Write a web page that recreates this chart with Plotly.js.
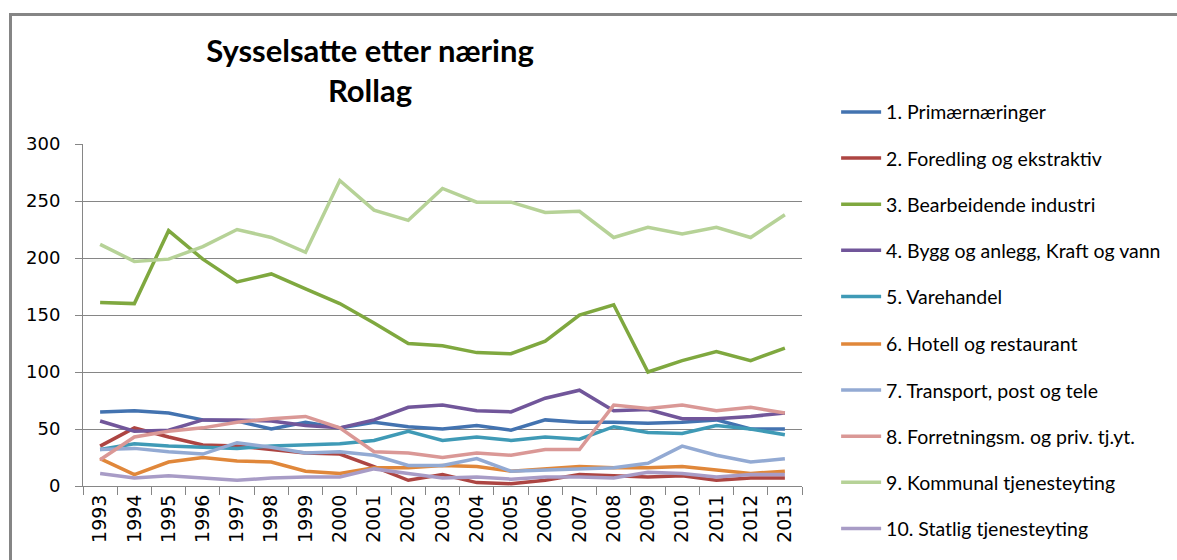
<!DOCTYPE html>
<html>
<head>
<meta charset="utf-8">
<script src="https://cdn.plot.ly/plotly-3.0.1.min.js"></script>
<style>
html,body{margin:0;padding:0;background:#fff;}
#chart{width:1177px;height:560px;}
#frame{position:absolute;left:9px;top:13px;width:1200px;height:600px;border-top:3px solid #858585;border-left:3px solid #858585;pointer-events:none;}
</style>
</head>
<body>
<div id="chart"></div>
<div id="frame"></div>
<script>
const years = ["1993","1994","1995","1996","1997","1998","1999","2000","2001","2002","2003","2004","2005","2006","2007","2008","2009","2010","2011","2012","2013"];
const seriesNames = [
  "1. Primærnæringer",
  "2. Foredling og ekstraktiv",
  "3. Bearbeidende industri",
  "4. Bygg og anlegg, Kraft og vann",
  "5. Varehandel",
  "6. Hotell og restaurant",
  "7. Transport, post og tele",
  "8. Forretningsm. og priv. tj.yt.",
  "9. Kommunal tjenesteyting",
  "10. Statlig tjenesteyting"
];
const primaer    = [65,66,64,58,57,50,56,51,56,52,50,53,49,58,56,56,55,56,58,50,50];
const foredling  = [35,51,43,36,35,32,29,28,17,5,10,3,2,5,10,9,8,9,5,7,7];
const bearbeid   = [161,160,224,199,179,186,173,160,143,125,123,117,116,127,150,159,100,110,118,110,121];
const bygg       = [57,48,49,58,58,57,53,51,58,69,71,66,65,77,84,66,67,59,59,61,64];
const varehandel = [32,37,35,34,33,35,36,37,40,48,40,43,40,43,41,52,47,46,53,50,45];
const hotell     = [24,10,21,25,22,21,13,11,16,16,18,17,13,15,17,16,16,17,14,11,13];
const transport  = [32,33,30,28,38,34,29,30,27,18,18,24,13,14,15,16,20,35,27,21,24];
const forretning = [23,43,48,51,56,59,61,51,30,29,25,29,27,32,32,71,68,71,66,69,64];
const kommunal   = [212,197,199,210,225,218,205,268,242,233,261,249,249,240,241,218,227,221,227,218,238];
const statlig    = [11,7,9,7,5,7,8,8,15,11,7,8,6,8,8,7,12,11,8,10,10];

const allSeries = [primaer,foredling,bearbeid,bygg,varehandel,hotell,transport,forretning,kommunal,statlig];
const colors = ["#4373B0","#AD4542","#7FA83F","#71569A","#3F9AB6","#E0873A","#93AAD3","#DA9896","#B6D297","#A89CC6"];

const traces = allSeries.map((vals,i)=>({
  x: years, y: vals, name: seriesNames[i], type:'scatter', mode:'lines',
  legendgroup:'g'+i,
  legend: i < 5 ? 'legend' : 'legend2',
  line:{color:colors[i], width:3.5}
}));

const font = "Lato, 'Open Sans', sans-serif";
const tickFont = "'DejaVu Sans', sans-serif";
const legendBase = {x:1.046, xanchor:'left', yanchor:'top', font:{family:font, size:19.5, color:'#000'}, tracegroupgap:17.8, itemwidth:40, bgcolor:'rgba(0,0,0,0)', traceorder:'grouped'};
const layout = {
  width:1177, height:560,
  margin:{l:83, r:374, t:144, b:74},
  paper_bgcolor:'#ffffff', plot_bgcolor:'#ffffff',
  font:{family:font, color:'#000'},
  title:{text:"<b>Sysselsatte etter næring</b><br><b>Rollag</b>", x:370/1177, xanchor:'center', y:(560-62)/560, yanchor:'middle', font:{family:font, size:31, color:'#000'}},
  showlegend:true,
  legend:Object.assign({}, legendBase, {y:1.15}),
  legend2:Object.assign({}, legendBase, {y:0.4716}),
  xaxis:{type:'category', tickson:'boundaries', ticks:'outside', ticklen:8, tickcolor:'#868686', tickangle:-90,
    showline:true, linecolor:'#868686', linewidth:1, showgrid:false, tickfont:{family:tickFont, size:19, color:'#000'}, range:[-0.5,20.5], fixedrange:true},
  yaxis:{range:[0,300], dtick:50, ticks:'outside', ticklen:7, tickcolor:'#868686', showline:true, linecolor:'#868686', linewidth:1,
    showgrid:true, gridcolor:'#868686', gridwidth:1, zeroline:false, tickfont:{family:tickFont, size:18, color:'#000'}, ticklabelstandoff:11, fixedrange:true}
};
Plotly.newPlot('chart', traces, layout, {displayModeBar:false, staticPlot:true});
</script>
</body>
</html>
